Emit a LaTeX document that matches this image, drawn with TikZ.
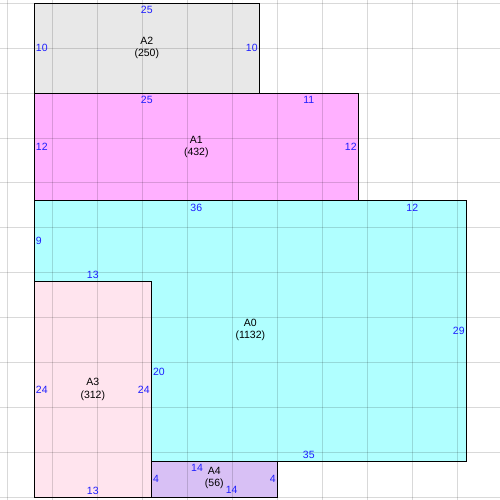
\documentclass[tikz,border=0pt]{standalone}
\usepackage{fontspec}
\setmainfont{Liberation Sans}
\usepackage{tikz}
\definecolor{numblue}{RGB}{30,30,255}
\definecolor{fillzero}{RGB}{176,255,255}
\definecolor{fillone}{RGB}{255,176,255}
\definecolor{filltwo}{RGB}{232,232,232}
\definecolor{fillthree}{RGB}{255,228,238}
\definecolor{fillfour}{RGB}{216,192,245}
\begin{document}
\begin{tikzpicture} [x=9pt,y=-8.98pt,
  border/.style={draw=black,line width=1pt},
  gridline/.style={draw=black,opacity=0.15,line width=0.8pt},
  num/.style={text=numblue,inner sep=0pt,font=\fontsize{10.5}{12.3}\selectfont},
  area/.style={align=center,inner sep=0pt,font=\fontsize{10.5}{12.3}\selectfont}]
\useasboundingbox (-3.811,-0.367) rectangle (51.744,55.31);
% corners
\coordinate (1) at (0,0);
\coordinate (2) at (25,0);
\coordinate (3) at (25,10);
\coordinate (4) at (0,10);
\coordinate (5) at (36,10);
\coordinate (6) at (36,22);
\coordinate (7) at (0,22);
\coordinate (8) at (48,22);
\coordinate (9) at (48,51);
\coordinate (10) at (13,51);
\coordinate (11) at (13,31);
\coordinate (12) at (0,31);
\coordinate (13) at (0,55);
\coordinate (14) at (13,55);
\coordinate (15) at (27,51);
\coordinate (16) at (27,55);
% fills
\fill[filltwo] (1)--(2)--(3)--(4)--cycle;
\fill[fillone] (4)--(5)--(6)--(7)--cycle;
\fill[fillzero] (7)--(8)--(9)--(10)--(11)--(12)--cycle;
\fill[fillthree] (12)--(11)--(10)--(14)--(13)--cycle;
\fill[fillfour] (10)--(15)--(16)--(14)--cycle;
% grid
\begin{scope}
\clip (-3.811,-0.367) rectangle (51.744,55.31);
\foreach \gx in {-3,2,...,52} \draw[gridline] (\gx,-1) -- (\gx,56);
\foreach \gy in {0,5,...,55} \draw[gridline] (-4,\gy) -- (52,\gy);
\end{scope}
% borders
\draw[border] (1)--(2)--(3)--(4)--cycle;
\draw[border] (4)--(5)--(6)--(7)--cycle;
\draw[border] (7)--(8)--(9)--(10)--(11)--(12)--cycle;
\draw[border] (12)--(11)--(10)--(14)--(13)--cycle;
\draw[border] (10)--(15)--(16)--(14)--cycle;
% area A2
\node[num,below=2.8pt] (a2top) at (12.5,0) {25};
\node[num,right=1.5pt] (a2left) at (0,5) {10};
\node[num,left=1.5pt] (a2right) at (25,5) {10};
\node[area] (a2) at (12.5,5) {A2\\(250)};
% area A1
\node[num,below=2.8pt] (a1top) at (12.5,10) {25};
\node[num,below=2.8pt] (a1topb) at (30.5,10) {11};
\node[num,right=1.5pt] (a1left) at (0,16) {12};
\node[num,left=1.5pt] (a1right) at (36,16) {12};
\node[area] (a1) at (18,16) {A1\\(432)};
% area A0
\node[num,below=2.8pt] (a0top) at (18,22) {36};
\node[num,below=2.8pt] (a0topb) at (42,22) {12};
\node[num,right=1.5pt] (a0left) at (0,26.5) {9};
\node[num,above=2.4pt] (a0bota) at (6.5,31) {13};
\node[num,left=1.5pt] (a0right) at (48,36.5) {29};
\node[num,right=1.5pt] (a0step) at (13,41) {20};
\node[num,above=2.4pt] (a0bot) at (30.5,51) {35};
\node[area] (a0) at (24,36.35) {A0\\(1132)};
% area A3
\node[num,right=1.5pt] (a3left) at (0,43) {24};
\node[num,left=1.5pt] (a3right) at (13,43) {24};
\node[num,above=2.4pt] (a3bot) at (6.5,55) {13};
\node[area] (a3) at (6.5,43) {A3\\(312)};
% area A4
\node[num] (a4top) at (18.08,51.78) {14};
\node[num,right=1.5pt] (a4left) at (13,53) {4};
\node[num,left=1.5pt] (a4right) at (27,53) {4};
\node[num] (a4bot) at (21.93,54.2) {14};
\node[area] (a4) at (20,52.85) {A4\\(56)};
\end{tikzpicture}
\end{document}
